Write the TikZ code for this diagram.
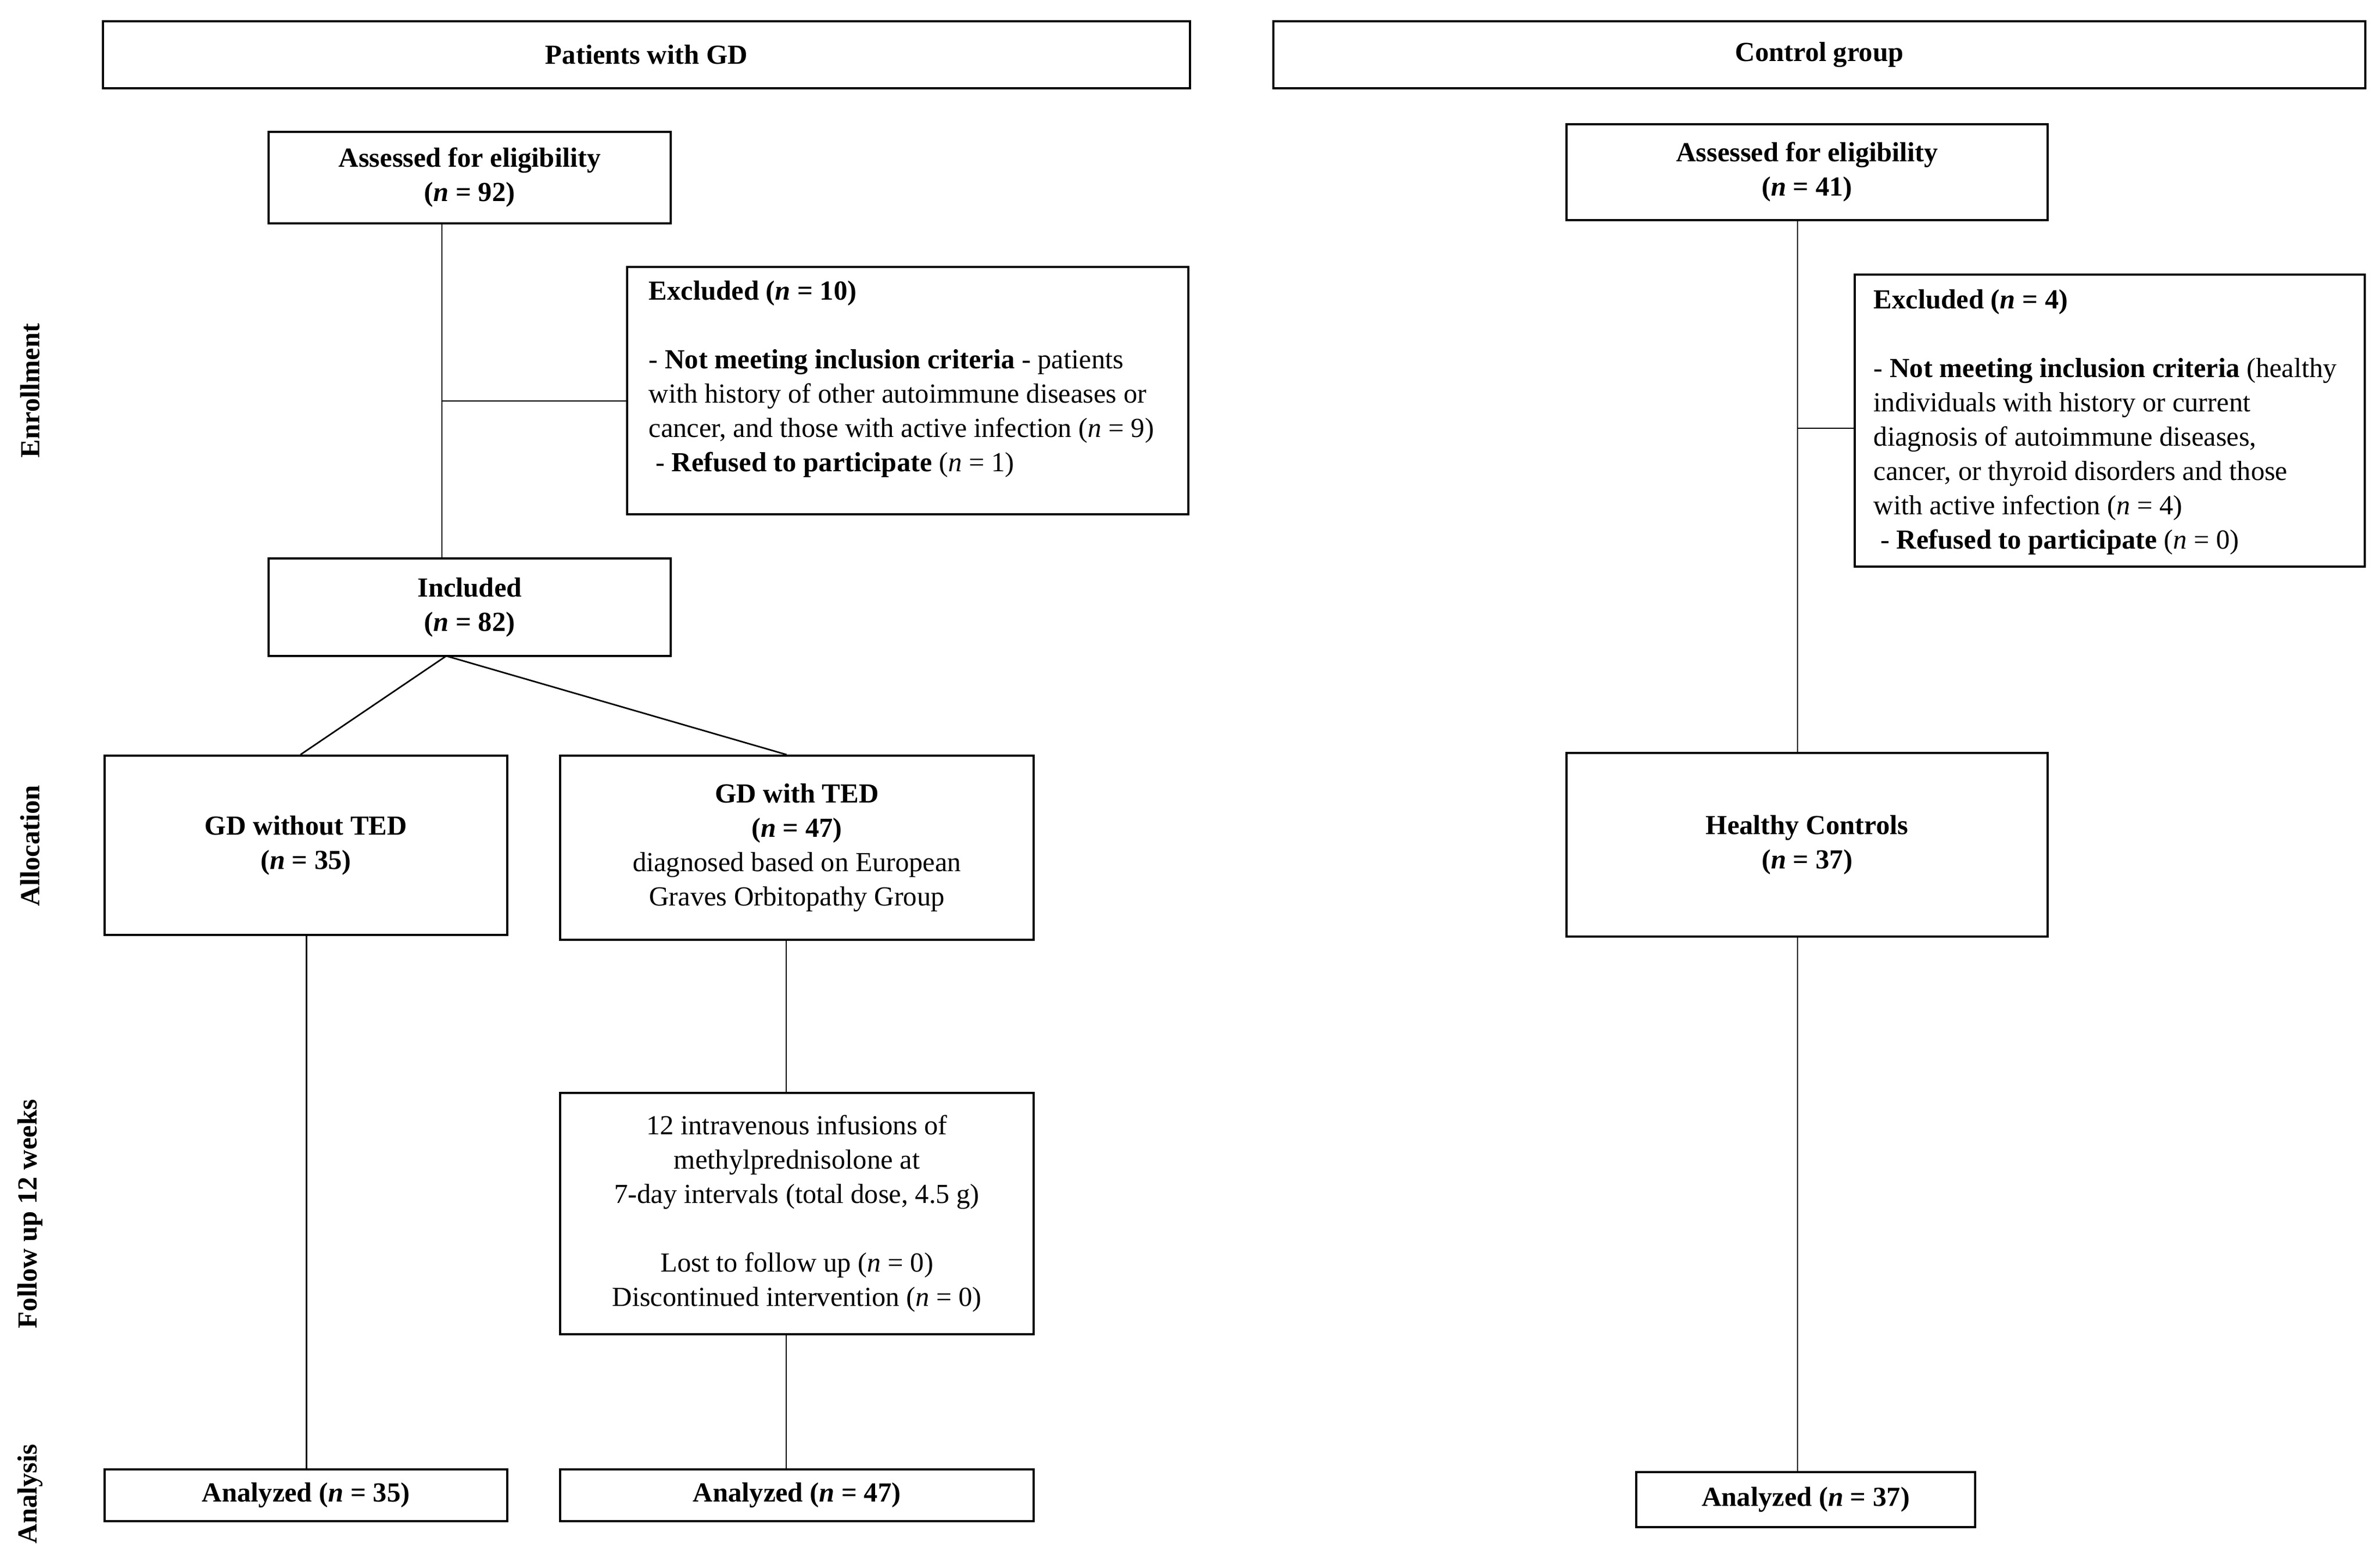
\documentclass[tikz,border=0pt]{standalone}
\usepackage{fontspec}
\setmainfont{Liberation Serif}
\usetikzlibrary{calc}
\begin{document}
\begin{tikzpicture}[x=1cm,y=1cm,
  every node/.style={font=\fontsize{14.4}{17.9}\selectfont},
  box/.style={draw=black, line width=1.1pt, rectangle, inner sep=0pt, align=center},
  txt/.style={inner sep=0pt, align=left, anchor=west},
  side/.style={inner sep=0pt, rotate=90, font=\fontsize{14.4}{17.9}\selectfont\bfseries},
  conn/.style={draw=black, line width=0.8pt}]
\useasboundingbox (0,0) rectangle (43.68,-28.66);
% headers
\node[box, minimum width=19.95cm, minimum height=1.23cm] (hdrL) at (11.865,-1.005) {\textbf{Patients with GD}};
\node[box, minimum width=20.04cm, minimum height=1.23cm] (hdrR) at (33.39,-1.005) {\textbf{Control group}};
% side labels
\node[side] (sEnr) at (0.55,-7.17) {Enrollment};
\node[side] (sAll) at (0.55,-15.52) {Allocation};
\node[side] (sFol) at (0.55,-22.28) {Follow up 12 weeks};
\node[side] (sAna) at (0.55,-27.42) {Analysis};
% left column
\node[box, minimum width=7.38cm, minimum height=1.68cm] (assL) at (8.62,-3.26) {\textbf{Assessed for eligibility}\\\textbf{(\textit{n} = 92)}};
\node[box, minimum width=10.30cm, minimum height=4.54cm] (exL) at (16.66,-7.17) {};
\node[txt] (exLt) at (11.90,-6.96) {\textbf{Excluded (\textit{n} = 10)}\\[17.9pt]- \textbf{Not meeting inclusion criteria} - patients\\with history of other autoimmune diseases or\\cancer, and those with active infection (\textit{n} = 9)\\\ - \textbf{Refused to participate} (\textit{n} = 1)};
\node[box, minimum width=7.38cm, minimum height=1.79cm] (incL) at (8.62,-11.145) {\textbf{Included}\\\textbf{(\textit{n} = 82)}};
\node[box, minimum width=7.39cm, minimum height=3.29cm] (gdn) at (5.615,-15.515) {\textbf{GD without TED}\\\textbf{(\textit{n} = 35)}};
\node[box, minimum width=8.69cm, minimum height=3.38cm] (gdt) at (14.625,-15.56) {\textbf{GD with TED}\\\textbf{(\textit{n} = 47)}\\diagnosed based on European\\Graves Orbitopathy Group};
\node[box, minimum width=8.69cm, minimum height=4.43cm] (fu) at (14.625,-22.275) {12 intravenous infusions of\\methylprednisolone at\\7-day intervals (total dose, 4.5 g)\\[17.9pt]Lost to follow up (\textit{n} = 0)\\Discontinued intervention (\textit{n} = 0)};
\node[box, minimum width=7.39cm, minimum height=0.95cm] (anL) at (5.615,-27.445) {\textbf{Analyzed (\textit{n} = 35)}};
\node[box, minimum width=8.69cm, minimum height=0.95cm] (anM) at (14.625,-27.445) {\textbf{Analyzed (\textit{n} = 47)}};
% right column
\node[box, minimum width=8.83cm, minimum height=1.76cm] (assR) at (33.165,-3.16) {\textbf{Assessed for eligibility}\\\textbf{(\textit{n} = 41)}};
\node[box, minimum width=9.36cm, minimum height=5.36cm] (exR) at (38.72,-7.72) {};
\node[txt] (exRt) at (34.38,-7.75) {\textbf{Excluded (\textit{n} = 4)}\\[17.9pt]- \textbf{Not meeting inclusion criteria} (healthy\\individuals with history or current\\diagnosis of autoimmune diseases,\\cancer, or thyroid disorders and those\\with active infection (\textit{n} = 4)\\\ - \textbf{Refused to participate} (\textit{n} = 0)};
\node[box, minimum width=8.83cm, minimum height=3.37cm] (hc) at (33.165,-15.505) {\textbf{Healthy Controls}\\\textbf{(\textit{n} = 37)}};
\node[box, minimum width=6.22cm, minimum height=1.01cm] (anR) at (33.14,-27.525) {\textbf{Analyzed (\textit{n} = 37)}};
% spine coordinates
\coordinate (spL) at (8.11,-7.36);
\coordinate (apex) at (8.19,-12.04);
\coordinate (spT) at (14.43,0);
\coordinate (spR) at (32.99,-7.86);
% connectors left
\draw[conn] (assL.south -| spL) -- (incL.north -| spL);
\draw[conn] (spL) -- (exL.west |- spL);
\draw[conn] (apex) -- ([xshift=-0.1cm]gdn.north);
\draw[conn] (apex) -- ([xshift=-0.19cm]gdt.north);
\draw[conn] ([xshift=0.01cm]gdn.south) -- ([xshift=0.01cm]anL.north);
\draw[conn] (gdt.south -| spT) -- (fu.north -| spT);
\draw[conn] (fu.south -| spT) -- (anM.north -| spT);
% connectors right
\draw[conn] (assR.south -| spR) -- (hc.north -| spR);
\draw[conn] (spR) -- (exR.west |- spR);
\draw[conn] (hc.south -| spR) -- (anR.north -| spR);
\end{tikzpicture}
\end{document}
